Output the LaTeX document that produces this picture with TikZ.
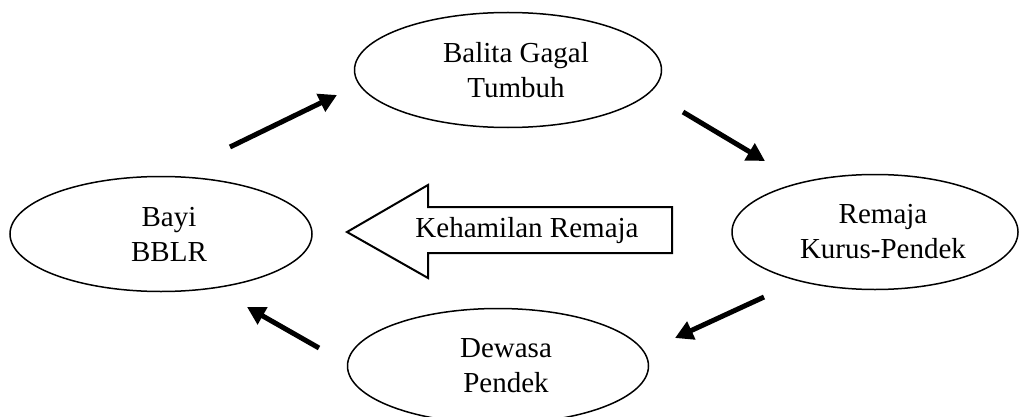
\documentclass[tikz,border=0pt]{standalone}
\usepackage{fontspec}
\setmainfont{Liberation Serif}
\usetikzlibrary{arrows.meta,shapes.geometric}
\begin{document}
\begin{tikzpicture}[x=1pt,y=-1pt,
  stage/.style={draw,ellipse,line width=1.5pt,minimum width=#1,minimum height=115pt,inner sep=0pt},
  caption/.style={align=center,xshift=8pt,font=\fontsize{29}{35}\selectfont},
  flow/.style={line width=5pt,-{Triangle[length=18pt,width=19pt]}}]
\useasboundingbox (0,0) rectangle (1024,417);
\node[stage=307pt,label={[caption]center:Balita Gagal\\Tumbuh}] (balita) at (508,70) {};
\node[stage=302pt,label={[caption]center:Bayi\\BBLR}] (bayi) at (161,234) {};
\node[stage=286pt,label={[caption]center:Remaja\\Kurus-Pendek}] (remaja) at (875,232) {};
\node[stage=301pt,label={[caption]center:Dewasa\\Pendek}] (dewasa) at (498,366) {};
% arrow ends
\coordinate (a1) at (230,147);
\coordinate (b1) at (337,95);
\coordinate (a2) at (683,112);
\coordinate (b2) at (765,161);
\coordinate (a3) at (764,297);
\coordinate (b3) at (675,338);
\coordinate (a4) at (319,348);
\coordinate (b4) at (247,307);
\draw[flow] (a1) -- (b1);
\draw[flow] (a2) -- (b2);
\draw[flow] (a3) -- (b3);
\draw[flow] (a4) -- (b4);
% big arrow
\draw[line width=2pt,line join=miter] (347,232) -- (428,185) -- (428,207) -- (672,207)
  -- (672,253) -- (428,253) -- (428,278) -- cycle;
\node[font=\fontsize{29}{35}\selectfont] (hamil) at (527,231) {Kehamilan Remaja};
\end{tikzpicture}
\end{document}
